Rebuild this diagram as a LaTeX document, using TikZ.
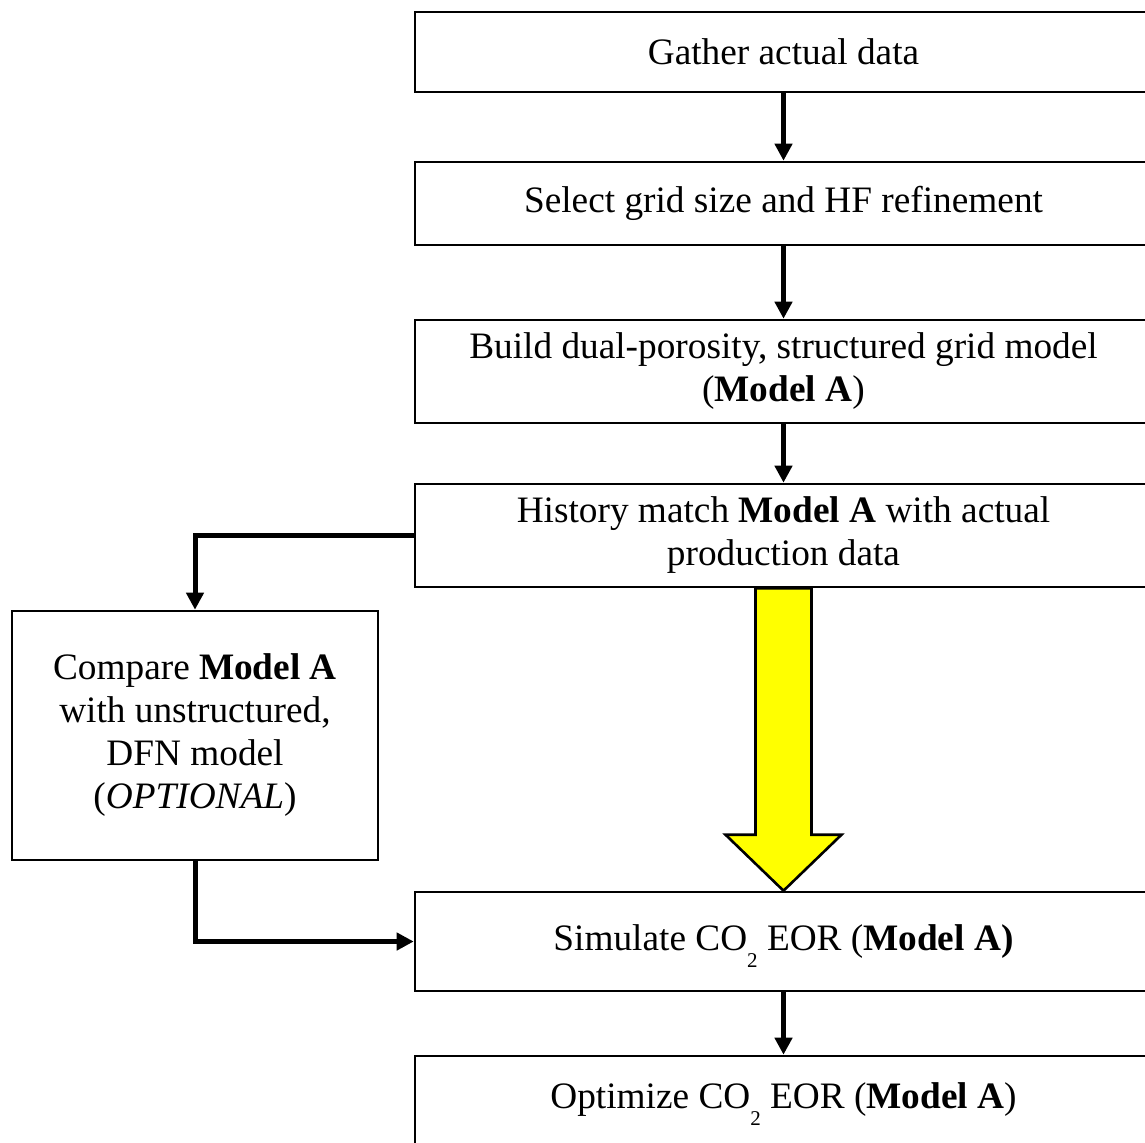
\documentclass[tikz,border=0pt]{standalone}
\usepackage{fontspec}
\setmainfont{Liberation Serif}
\usetikzlibrary{arrows.meta,calc}
\definecolor{puryellow}{RGB}{255,255,0}
\newcommand\subtwo{\raisebox{-8.5pt}[0pt][0pt]{\fontsize{10.5pt}{10.5pt}\selectfont 2}}
\begin{document}
\begin{tikzpicture}[x=0.5pt,y=-0.5pt,
  box/.style={draw=black,line width=1.3pt,fill=white,align=center,inner sep=0pt,
    font=\fontsize{18.65pt}{21.5pt}\selectfont},
  rbox/.style={box,minimum width=368.5pt},
  flow/.style={line width=2.5pt,-{Triangle[length=8.5pt,width=8.5pt]}},
  bigarrow/.style={draw=black,line width=1.3pt,fill=puryellow,line join=miter},
]
\useasboundingbox (0,0) rectangle (1145,1142);
\clip (0,0) rectangle (1145,1142);

\node[rbox,minimum height=40pt]   (b1) at (783.5,52)    {Gather actual data};
\node[rbox,minimum height=41.5pt] (b2) at (783.5,203.5) {Select grid size and HF refinement};
\node[rbox,minimum height=51.5pt] (b3) at (783.5,371.5) {Build dual-porosity, structured grid model\\(\textbf{Model A})};
\node[rbox,minimum height=51.5pt] (b4) at (783.5,535.5) {History match \textbf{Model A} with actual\\production data};
\node[rbox,minimum height=49.5pt] (b5) at (783.5,941.5) {Simulate CO\subtwo\ EOR (\textbf{Model A)}};
\node[rbox,minimum height=44pt]   (b6) at (783.5,1100)  {Optimize CO\subtwo\ EOR (\textbf{Model A})};
\node[box,minimum width=183pt,minimum height=124.5pt] (lb) at (195,735.5)
  {Compare \textbf{Model A}\\with unstructured,\\DFN model\\(\textit{OPTIONAL})};

\draw[flow] (b1.south) -- (b2.north);
\draw[flow] (b2.south) -- (b3.north);
\draw[flow] (b3.south) -- (b4.north);
\draw[flow] (b5.south) -- (b6.north);
\draw[flow] (b4.west) -| (lb.north);
\draw[flow] (lb.south) |- (b5.west);

\draw[bigarrow] ($(b4.south)+(-28,0)$) -- ($(b5.north)+(-28,-56)$) -- ($(b5.north)+(-58,-56)$)
  -- (b5.north) -- ($(b5.north)+(58,-56)$) -- ($(b5.north)+(28,-56)$)
  -- ($(b4.south)+(28,0)$) -- cycle;
\end{tikzpicture}
\end{document}
